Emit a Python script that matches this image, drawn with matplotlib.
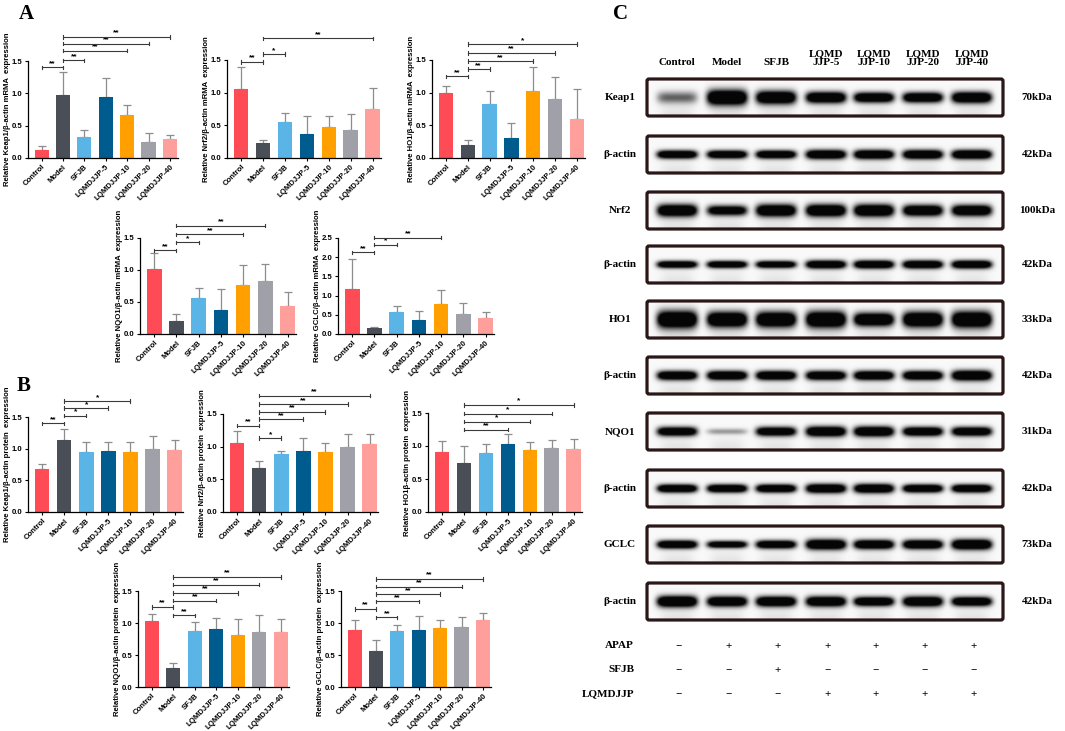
import numpy as np
import matplotlib
matplotlib.use("Agg")
import matplotlib.pyplot as plt
from matplotlib.patches import FancyBboxPatch

# ---------------- data ----------------
categories = ["Control", "Model", "SFJB", "LQMDJJP-5", "LQMDJJP-10", "LQMDJJP-20", "LQMDJJP-40"]
bar_colors = ["#FF4B55", "#4A4E56", "#5BB4E6", "#005C8E", "#FFA000", "#A0A0A8", "#FF9F9B"]

keap1_mrna_mean = [0.13, 0.97, 0.32, 0.95, 0.67, 0.24, 0.29]
keap1_mrna_sd = [0.06, 0.36, 0.12, 0.28, 0.15, 0.14, 0.07]
nrf2_mrna_mean = [1.06, 0.23, 0.55, 0.37, 0.48, 0.43, 0.75]
nrf2_mrna_sd = [0.34, 0.04, 0.14, 0.28, 0.17, 0.24, 0.32]
ho1_mrna_mean = [1.00, 0.20, 0.83, 0.30, 1.02, 0.90, 0.60]
ho1_mrna_sd = [0.10, 0.07, 0.19, 0.23, 0.38, 0.34, 0.45]
nqo1_mrna_mean = [1.02, 0.20, 0.57, 0.37, 0.76, 0.83, 0.44]
nqo1_mrna_sd = [0.24, 0.11, 0.15, 0.34, 0.32, 0.27, 0.22]
gclc_mrna_mean = [1.18, 0.16, 0.58, 0.36, 0.79, 0.52, 0.42]
gclc_mrna_sd = [0.77, 0.02, 0.16, 0.25, 0.36, 0.29, 0.15]

keap1_prot_mean = [0.68, 1.14, 0.94, 0.96, 0.95, 1.00, 0.98]
keap1_prot_sd = [0.08, 0.17, 0.17, 0.14, 0.16, 0.20, 0.16]
nrf2_prot_mean = [1.06, 0.68, 0.89, 0.93, 0.92, 1.00, 1.04]
nrf2_prot_sd = [0.18, 0.10, 0.05, 0.20, 0.13, 0.19, 0.15]
ho1_prot_mean = [0.91, 0.75, 0.89, 1.03, 0.94, 0.97, 0.96]
ho1_prot_sd = [0.16, 0.25, 0.14, 0.15, 0.12, 0.12, 0.14]
nqo1_prot_mean = [1.03, 0.30, 0.87, 0.91, 0.81, 0.86, 0.86]
nqo1_prot_sd = [0.11, 0.08, 0.14, 0.17, 0.25, 0.26, 0.20]
gclc_prot_mean = [0.89, 0.57, 0.87, 0.89, 0.92, 0.93, 1.04]
gclc_prot_sd = [0.15, 0.17, 0.10, 0.22, 0.13, 0.17, 0.11]

# significance brackets: (group i, group j, height, label)
keap1_mrna_sig = [(0, 1, 1.40, "**"), (1, 2, 1.51, "**"), (1, 4, 1.66, "**"), (1, 5, 1.77, "**"), (1, 6, 1.87, "**")]
nrf2_mrna_sig = [(0, 1, 1.47, "**"), (1, 2, 1.59, "*"), (1, 6, 1.83, "**")]
ho1_mrna_sig = [(0, 1, 1.25, "**"), (1, 2, 1.36, "**"), (1, 4, 1.48, "**"), (1, 5, 1.61, "**"), (1, 6, 1.74, "*")]
nqo1_mrna_sig = [(0, 1, 1.31, "**"), (1, 2, 1.43, "*"), (1, 4, 1.56, "**"), (1, 5, 1.69, "**")]
gclc_mrna_sig = [(0, 1, 2.13, "**"), (1, 2, 2.33, "*"), (1, 4, 2.51, "**")]
keap1_prot_sig = [(0, 1, 1.40, "**"), (1, 2, 1.52, "*"), (1, 3, 1.64, "*"), (1, 4, 1.75, "*")]
nrf2_prot_sig = [(0, 1, 1.32, "**"), (1, 2, 1.13, "*"), (1, 3, 1.42, "**"), (1, 4, 1.53, "**"), (1, 5, 1.65, "**"), (1, 6, 1.78, "**")]
ho1_prot_sig = [(1, 3, 1.25, "**"), (1, 4, 1.37, "*"), (1, 5, 1.49, "*"), (1, 6, 1.62, "*")]
nqo1_prot_sig = [(0, 1, 1.25, "**"), (1, 2, 1.12, "**"), (1, 3, 1.35, "**"), (1, 4, 1.47, "**"), (1, 5, 1.60, "**"), (1, 6, 1.72, "**")]
gclc_prot_sig = [(0, 1, 1.22, "**"), (1, 2, 1.09, "**"), (1, 3, 1.34, "**"), (1, 4, 1.45, "**"), (1, 5, 1.57, "**"), (1, 6, 1.69, "**")]

# western blot panel
blot_lanes = ["Control", "Model", "SFJB", "LQMD\nJJP-5", "LQMD\nJJP-10", "LQMD\nJJP-20", "LQMD\nJJP-40"]
blot_names = ["Keap1", "β-actin", "Nrf2", "β-actin", "HO1", "β-actin", "NQO1", "β-actin", "GCLC", "β-actin"]
blot_kda = ["70kDa", "42kDa", "100kDa", "42kDa", "33kDa", "42kDa", "31kDa", "42kDa", "73kDa", "42kDa"]
band_intensity = [
    [0.35, 1.00, 0.95, 0.95, 0.92, 0.92, 0.95],
    [0.95, 0.92, 0.95, 0.95, 0.95, 0.95, 0.97],
    [0.95, 0.80, 0.95, 0.97, 0.97, 0.92, 0.92],
    [0.92, 0.92, 0.90, 0.95, 0.95, 0.95, 0.95],
    [1.00, 1.00, 1.00, 1.00, 0.97, 1.00, 1.00],
    [0.92, 0.95, 0.95, 0.92, 0.95, 0.95, 0.97],
    [0.88, 0.22, 0.88, 0.95, 0.95, 0.92, 0.90],
    [0.95, 0.95, 0.95, 0.95, 0.95, 0.95, 0.95],
    [0.95, 0.85, 0.92, 0.97, 0.95, 0.95, 1.00],
    [1.00, 0.95, 0.97, 0.95, 0.95, 0.95, 0.95],
]
band_thickness = [
    [12, 15, 13, 11, 10, 10, 11],
    [8, 8, 8, 9, 9, 9, 9],
    [12, 10, 12, 12, 12, 11, 11],
    [7, 7, 7, 8, 8, 8, 8],
    [17, 15, 15, 16, 13, 15, 16],
    [9, 9, 9, 9, 9, 9, 10],
    [9, 6, 9, 10, 10, 9, 9],
    [8, 8, 8, 9, 9, 8, 8],
    [8, 7, 8, 10, 9, 9, 10],
    [11, 10, 10, 10, 9, 10, 9],
]
treat_names = ["APAP", "SFJB", "LQMDJJP"]
treat_signs = [
    ["−", "+", "+", "+", "+", "+", "+"],
    ["−", "−", "+", "−", "−", "−", "−"],
    ["−", "−", "−", "+", "+", "+", "+"],
]

# ---------------- figure ----------------
W, H = 1065, 731
fig = plt.figure(figsize=(W / 100, H / 100), dpi=100)
SANS = ["Liberation Sans", "DejaVu Sans"]
SERIF = ["Liberation Serif", "DejaVu Serif"]

over = fig.add_axes([0, 0, 1, 1])
over.set_xlim(0, W)
over.set_ylim(H, 0)
over.axis("off")

# panel letters
for letter, (lx, ly) in {"A": (19, 19), "B": (17, 391), "C": (613, 19)}.items():
    over.text(lx, ly, letter, fontsize=15, fontweight="bold", family=SERIF,
              ha="left", va="baseline")


def bar_panel(xl, xr, y0, yt, tval, top, ticks, means, sds, sig, ylabel):
    scale = (y0 - yt) / tval
    hpx = scale * top
    ax = fig.add_axes([xl / W, (H - y0) / H, (xr - xl) / W, hpx / H])
    x = np.arange(len(categories))
    ax.bar(x, means, width=0.66, color=bar_colors, zorder=2)
    for xi, m, s, c in zip(x, means, sds, bar_colors):
        ax.errorbar(xi, m, yerr=[[0], [s]], fmt="none", ecolor="#8d8d8d",
                    elinewidth=0.9, capsize=3.2, capthick=0.9, zorder=1)
    ax.set_xlim(-0.64, 6.38)
    ax.set_ylim(0, top)
    for sp in ["top", "right"]:
        ax.spines[sp].set_visible(False)
    ax.spines["left"].set_bounds(0, ticks[-1])
    ax.spines["left"].set_linewidth(0.9)
    ax.spines["bottom"].set_linewidth(0.9)
    ax.set_yticks(ticks)
    ax.set_yticklabels([f"{t:.1f}" for t in ticks], fontsize=5.6,
                       fontweight="bold", family=SANS)
    ax.set_xticks(x)
    ax.set_xticklabels(categories, rotation=45, ha="right", rotation_mode="anchor",
                       fontsize=5.6, fontweight="bold", family=SANS)
    ax.tick_params(axis="both", length=2.5, width=0.8, pad=1.5)
    ax.set_ylabel(ylabel, fontsize=5.6, fontweight="bold", family=SANS)
    ax.yaxis.set_label_coords(-17.0 / (xr - xl), ticks[-1] / 2 / top)
    d = top * 0.014
    for i, j, yy, lab in sig:
        ax.plot([i, j], [yy, yy], color="#3a3a3a", lw=0.8, clip_on=False, zorder=3)
        ax.plot([i, i], [yy - d, yy + d], color="#3a3a3a", lw=0.8, clip_on=False, zorder=3)
        ax.plot([j, j], [yy - d, yy + d], color="#3a3a3a", lw=0.8, clip_on=False, zorder=3)
        ax.text((i + j) / 2, yy + d * 0.2, lab, ha="center", va="bottom",
                fontsize=6, fontweight="bold", family=SANS, clip_on=False)
    return ax


t15 = [0.0, 0.5, 1.0, 1.5]
t25 = [0.0, 0.5, 1.0, 1.5, 2.0, 2.5]
bar_panel(28, 178, 158, 61, 1.5, 2.0, t15, keap1_mrna_mean, keap1_mrna_sd, keap1_mrna_sig,
          "Relative Keap1/β-actin mRMA  expression")
bar_panel(227, 381, 158, 60, 1.5, 2.0, t15, nrf2_mrna_mean, nrf2_mrna_sd, nrf2_mrna_sig,
          "Relative Nrf2/β-actin mRMA  expression")
bar_panel(432, 585, 158, 60, 1.5, 2.0, t15, ho1_mrna_mean, ho1_mrna_sd, ho1_mrna_sig,
          "Relative HO1/β-actin mRMA  expression")
bar_panel(140, 296, 334, 238, 1.5, 1.85, t15, nqo1_mrna_mean, nqo1_mrna_sd, nqo1_mrna_sig,
          "Relative NQO1/β-actin mRMA  expression")
bar_panel(338, 494, 334, 238, 2.5, 2.7, t25, gclc_mrna_mean, gclc_mrna_sd, gclc_mrna_sig,
          "Relative GCLC/β-actin mRMA  expression")
bar_panel(28, 183, 512, 417, 1.5, 1.9, t15, keap1_prot_mean, keap1_prot_sd, keap1_prot_sig,
          "Relative Keap1/β-actin protein  expression")
bar_panel(223, 378, 512, 414, 1.5, 1.9, t15, nrf2_prot_mean, nrf2_prot_sd, nrf2_prot_sig,
          "Relative Nrf2/β-actin protein  expression")
bar_panel(428, 582, 512, 413, 1.5, 1.9, t15, ho1_prot_mean, ho1_prot_sd, ho1_prot_sig,
          "Relative HO1β-actin protein  expression")
bar_panel(138, 289, 687, 591, 1.5, 1.9, t15, nqo1_prot_mean, nqo1_prot_sd, nqo1_prot_sig,
          "Relative NQO1/β-actin protein  expression")
bar_panel(341, 491, 687, 591, 1.5, 1.9, t15, gclc_prot_mean, gclc_prot_sd, gclc_prot_sig,
          "Relative GCLC/β-actin protein  expression")

# ---------------- western blot (panel C) ----------------
lane_x = [677, 727, 776, 826, 874, 923, 972]
box_x0, box_x1 = 647, 1003
box_tops = [79, 136, 192, 246, 301, 357, 413, 470, 526, 583]
box_h = 37

for lx, lab in zip(lane_x, blot_lanes):
    over.text(lx, 67, lab, ha="center", va="bottom", fontsize=8, fontweight="bold",
              family=SERIF, linespacing=0.95)

for k, (top, name, kda) in enumerate(zip(box_tops, blot_names, blot_kda)):
    bot = top + box_h
    nx, ny = int((box_x1 - box_x0) * 2), int(box_h * 2)
    xs = np.linspace(box_x0, box_x1, nx)
    ys = np.linspace(top, bot, ny)
    X, Y = np.meshgrid(xs, ys)
    cy = top + box_h * 0.5
    dark = np.zeros_like(X)
    for lx, inten, th in zip(lane_x, band_intensity[k], band_thickness[k]):
        hprof = np.exp(-((X - lx) / 20.0) ** 6)
        vprof = np.exp(-((Y - cy) / (th * 0.5)) ** 2)
        smear = 0.10 * np.exp(-((X - lx) / 17.0) ** 4) * np.clip((Y - cy) / box_h * 2, 0, 1)
        dark += inten * 1.8 * hprof * vprof + smear
    img = 0.975 - np.clip(dark, 0, 1) * 0.95
    over.imshow(img, extent=(box_x0, box_x1, bot, top), cmap="gray", vmin=0, vmax=1,
                interpolation="bilinear", aspect="auto", zorder=1)
    over.add_patch(FancyBboxPatch((box_x0, top), box_x1 - box_x0, box_h,
                                  boxstyle="round,pad=0,rounding_size=2",
                                  fill=False, edgecolor="#2a1717", lw=2.3, zorder=2))
    over.text(620, top + box_h / 2, name, ha="center", va="center", fontsize=8,
              fontweight="bold", family=SERIF)
    over.text(1037, top + box_h / 2, kda, ha="center", va="center", fontsize=8,
              fontweight="bold", family=SERIF)

for r, (tn, signs) in enumerate(zip(treat_names, treat_signs)):
    yy = 646 + r * 24
    over.text(634, yy, tn, ha="right", va="center", fontsize=8, fontweight="bold",
              family=SERIF)
    for lx, s in zip(lane_x, signs):
        over.text(lx + 2, yy, s, ha="center", va="center", fontsize=8,
                  fontweight="bold", family=SERIF)

fig.savefig("out.png", dpi=100)
